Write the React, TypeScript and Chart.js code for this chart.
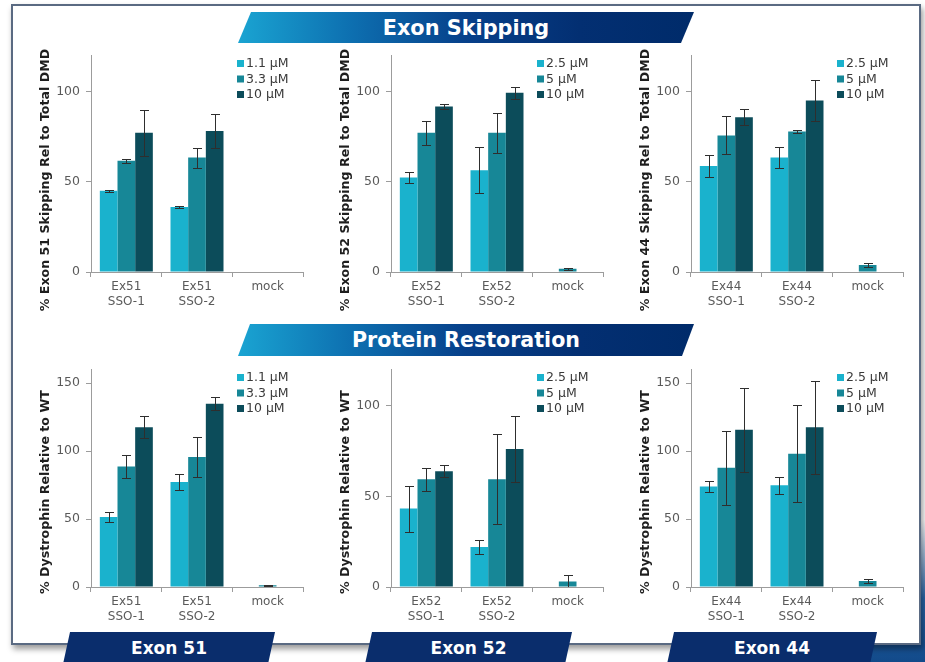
import React, { useEffect, useRef } from "react";
import { Chart, registerables } from "chart.js";
Chart.register(...registerables);

// ---------- data ----------
const cats51 = [["Ex51", "SSO-1"], ["Ex51", "SSO-2"], "mock"];
const cats52 = [["Ex52", "SSO-1"], ["Ex52", "SSO-2"], "mock"];
const cats44 = [["Ex44", "SSO-1"], ["Ex44", "SSO-2"], "mock"];

const dose51 = ["1.1 μM", "3.3 μM", "10 μM"];
const dose52 = ["2.5 μM", "5 μM", "10 μM"];
const dose44 = ["2.5 μM", "5 μM", "10 μM"];

// Exon skipping (% rel to total DMD)
const skip51Low = [45, 36, null];
const skip51LowErr = [0.5, 0.5, 0];
const skip51Mid = [61.6, 63.4, 0];
const skip51MidErr = [1, 5.5, 0];
const skip51High = [77.2, 78.1, null];
const skip51HighErr = [12.8, 9.5, 0];

const skip52Low = [52.4, 56.4, null];
const skip52LowErr = [3.3, 12.8, 0];
const skip52Mid = [77.2, 77.2, 1.8];
const skip52MidErr = [6.6, 11, 0.5];
const skip52High = [91.7, 99.3, null];
const skip52HighErr = [1.4, 3.5, 0];

const skip44Low = [58.8, 63.4, null];
const skip44LowErr = [6.3, 5.7, 0];
const skip44Mid = [75.7, 77.9, 3.9];
const skip44MidErr = [10.5, 0.8, 1];
const skip44High = [85.8, 95, null];
const skip44HighErr = [4.3, 11.3, 0];

// Protein restoration (% dystrophin relative to WT)
const prot51Low = [51.5, 77.2, null];
const prot51LowErr = [3.7, 6.1, 0];
const prot51Mid = [88.7, 95.6, 1.2];
const prot51MidErr = [8.3, 14.5, 0.5];
const prot51High = [117.6, 134.8, null];
const prot51HighErr = [8.3, 4.9, 0];

const prot52Low = [43.3, 22.1, null];
const prot52LowErr = [12.7, 4, 0];
const prot52Mid = [59.5, 59.5, 3.1];
const prot52MidErr = [6.3, 25, 3.3];
const prot52High = [63.9, 76.1, null];
const prot52HighErr = [3.2, 18, 0];

const prot44Low = [74, 74.8, null];
const prot44LowErr = [4, 6.1, 0];
const prot44Mid = [87.7, 98, 4.4];
const prot44MidErr = [27.2, 35.8, 1.7];
const prot44High = [115.7, 117.6, null];
const prot44HighErr = [31, 34.3, 0];

// ---------- styles ----------
const COLORS = ["#1ab2cd", "#178797", "#0c4c5a"];
const FONT = "'DejaVu Sans', Verdana, sans-serif";
const AXIS = "#9c9c9c";
const TICK = "#5a5a5a";

const errorBarPlugin = {
  id: "errbars",
  afterDatasetsDraw(chart: any) {
    const { ctx, chartArea, scales } = chart;
    const y = scales.y;
    ctx.save();
    ctx.beginPath();
    ctx.rect(chartArea.left, chartArea.top - 20, chartArea.right - chartArea.left, chartArea.bottom - chartArea.top + 20);
    ctx.clip();
    ctx.strokeStyle = "#2e2e2e";
    ctx.lineWidth = 1;
    chart.data.datasets.forEach((ds: any, i: number) => {
      const meta = chart.getDatasetMeta(i);
      ds.data.forEach((v: any, j: number) => {
        const e = ds.errors ? ds.errors[j] : 0;
        if (v == null || !e) return;
        const bar = meta.data[j];
        if (!bar) return;
        const x = Math.round(bar.x) + 0.5;
        const yt = Math.round(y.getPixelForValue(v + e)) + 0.5;
        const yb = Math.round(y.getPixelForValue(Math.max(v - e, 0))) + 0.5;
        ctx.beginPath();
        ctx.moveTo(x, yt);
        ctx.lineTo(x, yb);
        ctx.moveTo(x - 4.5, yt);
        ctx.lineTo(x + 4.5, yt);
        if (v - e > 0) {
          ctx.moveTo(x - 4.5, yb);
          ctx.lineTo(x + 4.5, yb);
        }
        ctx.stroke();
      });
    });
    ctx.restore();
  },
};

const legendPlugin = {
  id: "boxlegend",
  afterDraw(chart: any) {
    const { ctx, chartArea } = chart;
    ctx.save();
    ctx.font = `12.5px ${FONT}`;
    ctx.textBaseline = "middle";
    ctx.textAlign = "left";
    chart.data.datasets.forEach((ds: any, i: number) => {
      const x = chartArea.right - 66;
      const yc = chartArea.top + 8 + i * 15.5;
      ctx.fillStyle = ds.backgroundColor;
      ctx.fillRect(x, yc - 3.5, 7, 7);
      ctx.fillStyle = "#3a3a3a";
      ctx.fillText(ds.label, x + 9, yc + 0.5);
    });
    ctx.restore();
  },
};

const yTitlePlugin = {
  id: "ytitle",
  afterDraw(chart: any, _args: any, opts: any) {
    const { ctx } = chart;
    ctx.save();
    ctx.translate(opts.x, opts.y);
    ctx.rotate(-Math.PI / 2);
    ctx.font = `bold ${opts.size}px ${FONT}`;
    ctx.fillStyle = "#1e1e1e";
    ctx.textAlign = "center";
    ctx.textBaseline = "middle";
    ctx.fillText(opts.text, 0, 0);
    ctx.restore();
  },
};

type PanelProps = {
  left: number;
  top: number;
  height: number;
  cats: any[];
  doses: string[];
  series: (number | null)[][];
  errors: number[][];
  yMax: number;
  title: string;
  titleY: number;
  titleSize: number;
};

function Panel(p: PanelProps) {
  const ref = useRef<HTMLCanvasElement>(null);
  useEffect(() => {
    if (!ref.current) return;
    const chart = new Chart(ref.current, {
      type: "bar",
      data: {
        labels: p.cats,
        datasets: p.series.map((s, i) => ({
          label: p.doses[i],
          data: s,
          errors: p.errors[i],
          backgroundColor: COLORS[i],
          borderWidth: 0,
          categoryPercentage: 0.75,
          barPercentage: 1.0,
        })) as any,
      },
      options: {
        animation: false,
        responsive: false,
        maintainAspectRatio: false,
        layout: { padding: { top: 6, right: 27, left: 0, bottom: 0 } },
        plugins: {
          legend: { display: false },
          tooltip: { enabled: false },
          ytitle: { text: p.title, x: 16, y: p.titleY, size: p.titleSize },
        } as any,
        scales: {
          x: {
            grid: { display: true, drawOnChartArea: false, color: AXIS, tickLength: 5, offset: true },
            border: { color: AXIS, width: 1 },
            ticks: {
              color: TICK,
              font: { family: FONT, size: 12, lineHeight: 1.2 },
              maxRotation: 0,
              autoSkip: false,
              padding: 3,
            },
            afterFit: (s: any) => {
              s.height = 45;
            },
          },
          y: {
            min: 0,
            max: p.yMax,
            grid: { display: true, drawOnChartArea: false, color: AXIS, tickLength: 5 },
            border: { color: AXIS, width: 1 },
            ticks: {
              stepSize: 50,
              includeBounds: false,
              color: TICK,
              font: { family: FONT, size: 12.5 },
              padding: 6,
            },
            afterFit: (s: any) => {
              s.width = 61;
            },
          },
        },
      },
      plugins: [errorBarPlugin, legendPlugin, yTitlePlugin],
    });
    return () => chart.destroy();
  }, []);
  return (
    <canvas
      ref={ref}
      width={300}
      height={p.height}
      style={{ position: "absolute", left: p.left, top: p.top, width: 300, height: p.height }}
    />
  );
}

function Banner(props: {
  left: number;
  top: number;
  width: number;
  height: number;
  slant: number;
  text: string;
  size: number;
  bg: string;
}) {
  const { left, top, width, height, slant, text, size, bg } = props;
  return (
    <div
      style={{
        position: "absolute",
        left,
        top,
        width,
        height,
        background: bg,
        clipPath: `polygon(${slant}px 0, 100% 0, calc(100% - ${slant}px) 100%, 0 100%)`,
        display: "flex",
        alignItems: "center",
        justifyContent: "center",
        color: "#ffffff",
        fontFamily: FONT,
        fontWeight: "bold",
        fontSize: size,
        whiteSpace: "nowrap",
      }}
    >
      {text}
    </div>
  );
}

const GRAD = "linear-gradient(90deg, #1aa4d2 0%, #0d6fb0 25%, #07408a 50%, #032f72 75%, #002b6a 100%)";
const NAVY = "#0a2d6c";

export default function App() {
  return (
    <div
      style={{
        position: "fixed",
        left: 0,
        top: 0,
        width: 925,
        height: 662,
        overflow: "hidden",
        background: "#ffffff",
      }}
    >
      <div
        style={{
          position: "absolute",
          left: 860,
          top: 520,
          width: 65,
          height: 142,
          background: "linear-gradient(180deg, rgba(40,100,170,0) 0%, #2a66a8 55%, #124a8a 100%)",
        }}
      />
      <div
        style={{
          position: "absolute",
          left: 11,
          top: 4,
          width: 906,
          height: 637,
          border: "2px solid #5a6a82",
          background: "#ffffff",
          boxShadow: "2px 4px 6px rgba(0,0,0,0.4)",
        }}
      />
      <Panel left={30} top={42} height={275} cats={cats51} doses={dose51}
        series={[skip51Low, skip51Mid, skip51High]} errors={[skip51LowErr, skip51MidErr, skip51HighErr]}
        yMax={120} title="% Exon 51 Skipping Rel to Total DMD" titleY={138} titleSize={12.6} />
      <Panel left={330} top={42} height={275} cats={cats52} doses={dose52}
        series={[skip52Low, skip52Mid, skip52High]} errors={[skip52LowErr, skip52MidErr, skip52HighErr]}
        yMax={120} title="% Exon 52 Skipping Rel to Total DMD" titleY={138} titleSize={12.6} />
      <Panel left={630} top={42} height={275} cats={cats44} doses={dose44}
        series={[skip44Low, skip44Mid, skip44High]} errors={[skip44LowErr, skip44MidErr, skip44HighErr]}
        yMax={120} title="% Exon 44 Skipping Rel to Total DMD" titleY={138} titleSize={12.6} />
      <Panel left={30} top={356} height={276} cats={cats51} doses={dose51}
        series={[prot51Low, prot51Mid, prot51High]} errors={[prot51LowErr, prot51MidErr, prot51HighErr]}
        yMax={160} title="% Dystrophin Relative to WT" titleY={136} titleSize={12.6} />
      <Panel left={330} top={356} height={276} cats={cats52} doses={dose52}
        series={[prot52Low, prot52Mid, prot52High]} errors={[prot52LowErr, prot52MidErr, prot52HighErr]}
        yMax={120} title="% Dystrophin Relative to WT" titleY={136} titleSize={12.6} />
      <Panel left={630} top={356} height={276} cats={cats44} doses={dose44}
        series={[prot44Low, prot44Mid, prot44High]} errors={[prot44LowErr, prot44MidErr, prot44HighErr]}
        yMax={160} title="% Dystrophin Relative to WT" titleY={136} titleSize={12.6} />
      <Banner left={238} top={12} width={456} height={31} slant={13} text="Exon Skipping" size={20.8} bg={GRAD} />
      <Banner left={238} top={324} width={456} height={32} slant={12} text="Protein Restoration" size={20.6} bg={GRAD} />
      <Banner left={63} top={632} width={212} height={32} slant={7} text="Exon 51" size={17} bg={NAVY} />
      <Banner left={365} top={632} width={207} height={32} slant={7} text="Exon 52" size={17} bg={NAVY} />
      <Banner left={667} top={632} width={210} height={32} slant={7} text="Exon 44" size={17} bg={NAVY} />
    </div>
  );
}
